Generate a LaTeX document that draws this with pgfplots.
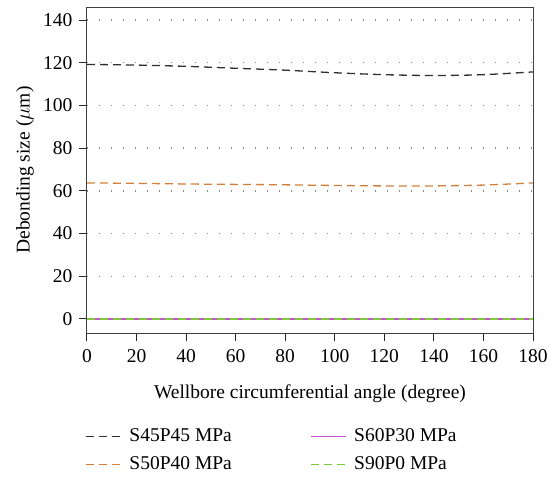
\documentclass[border=0pt]{standalone}
\usepackage{pgfplots}
\pgfplotsset{compat=1.18}
\usepackage{fontspec}
\setmainfont{Liberation Serif}
\definecolor{cblack}{HTML}{303030}
\definecolor{corange}{HTML}{D2803A}
\definecolor{cpurple}{HTML}{C058C8}
\definecolor{cgreen}{HTML}{80C840}
\newcommand{\fs}{\fontsize{19.5}{23}\selectfont}
\begin{document}
\fs
\begin{tikzpicture}
\begin{axis}[
  at={(0,0)}, anchor=south west,
  scale only axis, width=446pt, height=326pt,
  xmin=0, xmax=180, ymin=-6.6, ymax=146.1,
  xtick={0,20,...,180}, ytick={0,20,...,140},
  tick align=outside, tick pos=left,
  major tick length=8pt,
  axis line style={draw=black!75, line width=1pt},
  tick style={black!85, line width=1pt},
  ymajorgrids, grid style={black!45, line width=1.4pt, dash pattern=on 1.4pt off 10.6pt},
  /pgf/number format/assume math mode=true,
  ticklabel style={font=\fs},
  xticklabel style={yshift=-2pt},
  label style={font=\fs},
  xlabel={Wellbore circumferential angle (degree)},
  ylabel={Debonding size ($\mu$m)},
  xlabel style={yshift=-9pt},
  ylabel style={yshift=-4pt},
  legend columns=2,
  legend style={at={(0,-0.284)}, xshift=-2pt, anchor=north west, draw=none, fill=none,
    inner sep=0pt, font=\fs, row sep=6pt,
    nodes={inner sep=2pt, text height=14pt, text depth=4pt},
    /tikz/every odd column/.append style={column sep=6pt},
    /tikz/every even column/.append style={column sep=76pt}},
  legend cell align=left,
  legend image code/.code={\draw[#1] (0pt,0pt) -- (35pt,0pt);},
]
\addplot[cblack, line width=1.3pt, dash pattern=on 8pt off 5pt, smooth] coordinates {
(0,119.2) (20,118.9) (40,118.3) (60,117.4) (80,116.5) (100,115.3) (120,114.4) (140,114.0) (160,114.4) (180,115.7)};
\addlegendentry{S45P45 MPa}
\addplot[cpurple, line width=1.3pt] coordinates {(0,0) (180,0)};
\addlegendentry{S60P30 MPa}
\addplot[corange, line width=1.3pt, dash pattern=on 8pt off 5pt, smooth] coordinates {
(0,63.7) (20,63.5) (40,63.2) (60,63.0) (80,62.8) (100,62.5) (120,62.3) (140,62.3) (160,62.7) (180,63.7)};
\addlegendentry{S50P40 MPa}
\addplot[cgreen, line width=1.3pt, dash pattern=on 8pt off 5pt] coordinates {(0,0) (180,0)};
\addlegendentry{S90P0 MPa}
\end{axis}
\path (-87pt,-144pt) rectangle (470pt,333pt);
\end{tikzpicture}
\end{document}
